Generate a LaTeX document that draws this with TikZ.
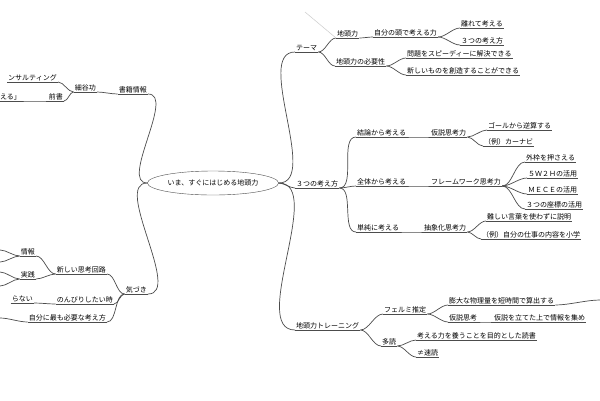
\documentclass[tikz,border=0pt]{standalone}
\usepackage{fontspec}
\usetikzlibrary{shapes.geometric}
\setmainfont{Noto Sans CJK JP}
\begin{document}
\begin{tikzpicture}[x=1pt,y=-1pt,
  lab/.style={inner sep=1pt,font=\fontsize{7}{8}\selectfont,anchor=south west,
    append after command={\pgfextra{\draw[gray!60!black,line width=0.7pt] (\tikzlastnode.south west)--(\tikzlastnode.south east);}}},
  labl/.style={lab,anchor=south east},
  con/.style={gray!60!black,line width=0.7pt,out=0,in=180,looseness=0.8},
  conl/.style={gray!60!black,line width=0.7pt,out=180,in=0,looseness=0.8}]
\useasboundingbox (0,0) rectangle (600,400);
\fill[white] (0,0) rectangle (600,400);
\node[draw,ellipse,gray!60!black,text=black,inner sep=1pt,minimum width=110pt,minimum height=24pt,font=\fontsize{7}{8}\selectfont] (c) at (213,183) {いま、すぐにはじめる地頭力};
% right side
\node[lab] (tema) at (295,52) {テーマ};
\node[lab] (jt) at (336,38) {地頭力};
\node[lab] (jb) at (373,37) {自分の頭で考える力};
\node[lab] (hk) at (460,28) {離れて考える};
\node[lab] (mk) at (460,45) {３つの考え方};
\node[lab] (hs) at (335,66) {地頭力の必要性};
\node[lab] (sp) at (406,58) {問題をスピーディーに解決できる};
\node[lab] (so) at (406,75) {新しいものを創造することができる};
\node[lab] (mk3) at (295,188) {３つの考え方};
\node[lab] (kr) at (356,137) {結論から考える};
\node[lab] (ks) at (430,137) {仮説思考力};
\node[lab] (gl) at (487,130) {ゴールから逆算する};
\node[lab] (cn) at (483,146) {（例）カーナビ};
\node[lab] (zt) at (356,186) {全体から考える};
\node[lab] (fw) at (430,186) {フレームワーク思考力};
\node[lab] (sw) at (525,162) {外枠を押さえる};
\node[lab] (w2) at (527,178) {５Ｗ２Ｈの活用};
\node[lab] (me) at (527,194) {ＭＥＣＥの活用};
\node[lab] (zh) at (525,209) {３つの座標の活用};
\node[lab] (tj) at (356,232) {単純に考える};
\node[lab] (cs) at (423,232) {抽象化思考力};
\node[lab] (mz) at (486,221) {難しい言葉を使わずに説明};
\node[lab] (rs) at (481,239) {（例）自分の仕事の内容を小学};
\node[lab] (tr) at (295,330) {地頭力トレーニング};
\node[lab] (fm) at (383,314) {フェルミ推定};
\node[lab] (bd) at (448,305) {膨大な物理量を短時間で算出する};
\node[lab] (kk) at (448,322) {仮説思考};
\node[lab] (kt) at (493,322) {仮説を立てた上で情報を集め};
\node[lab] (td) at (381,346) {多読};
\node[lab] (yo) at (416,340) {考える力を養うことを目的とした読書};
\node[lab] (sd) at (416,357) {≠速読};
\coordinate (re) at (600,300);
\draw[con] (c.east) to (tema.south west);
\draw[con] (c.east) to (mk3.south west);
\draw[con] (c.east) to (tr.south west);
\foreach \a/\b in {tema/jt,tema/hs,jt/jb,jb/hk,jb/mk,hs/sp,hs/so,mk3/kr,mk3/zt,mk3/tj,kr/ks,ks/gl,ks/cn,zt/fw,fw/sw,fw/w2,fw/me,fw/zh,tj/cs,cs/mz,cs/rs,tr/fm,tr/td,fm/bd,fm/kk,kk/kt,td/yo,td/sd}
  \draw[con] (\a.south east) to (\b.south west);
\draw[con] (bd.south east) to (re);
\draw[gray!40,line width=0.5pt] (305,12) -- (jt.south west);
% left side
\node[labl] (sj) at (148,94) {書籍情報};
\node[labl] (hy) at (97,92) {細谷功};
\node[labl] (ms) at (64,101) {前書};
\node[labl] (cs1) at (58,82) {ンサルティング};
\node[labl] (ka) at (22,101) {える」};
\node[labl] (kz) at (148,294) {気づき};
\node[labl] (as) at (107,274) {新しい思考回路};
\node[labl] (jh) at (36,256) {情報};
\node[labl] (jk) at (36,279) {実践};
\node[labl] (nb) at (114,304) {のんびりしたい時};
\node[labl] (rn) at (34,303) {らない};
\node[labl] (jm) at (107,322) {自分に最も必要な考え方};
\coordinate (e1) at (0,250); \coordinate (e2) at (0,262);
\coordinate (e3) at (0,272); \coordinate (e4) at (0,286);
\coordinate (e5) at (0,318);
\draw[conl] (c.west) to (sj.south east);
\draw[conl] (c.west) to (kz.south east);
\foreach \a/\b in {sj/hy,hy/cs1,hy/ms,ms/ka,kz/as,kz/nb,kz/jm,as/jh,as/jk,nb/rn}
  \draw[conl] (\a.south west) to (\b.south east);
\draw[conl] (jh.south west) to (e1);
\draw[conl] (jh.south west) to (e2);
\draw[conl] (jk.south west) to (e3);
\draw[conl] (jk.south west) to (e4);
\draw[conl] (jm.south west) to (e5);
\end{tikzpicture}
\end{document}
